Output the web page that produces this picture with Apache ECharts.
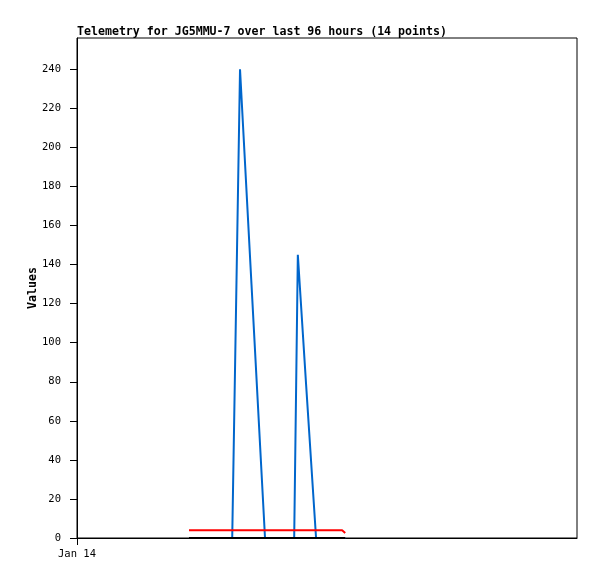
<!DOCTYPE html>
<html><head><meta charset="utf-8">
<script src="https://cdn.jsdelivr.net/npm/echarts@6/dist/echarts.min.js"></script>
<style>html,body{margin:0;padding:0;background:#fff}#c{width:597px;height:579px}</style>
</head><body><div id="c"></div>
<script>
const titleText = 'Telemetry for JG5MMU-7 over last 96 hours (14 points)';
const hours = [21.5, 25.5, 29.8, 31.3, 33.5, 36.1, 38.9, 41.7, 42.4, 44.0, 45.9, 48.4, 50.9, 51.5];
const blueVals = [0, 0, 0, 240, 130, 0, 0, 0, 145, 78, 0, 0, 0, 0];
const redVals = [4, 4, 4, 4, 4, 4, 4, 4, 4, 4, 4, 4, 4, 2.6];
const blackVals = [0, 0, 0, 0, 0, 0, 0, 0, 0, 0, 0, 0, 0, 0];
const yTicks = [0, 20, 40, 60, 80, 100, 120, 140, 160, 180, 200, 220, 240];
const xTicks = [0];
const xTickLabels = ['Jan 14'];

const pair = (vals) => hours.map((h, i) => [h, vals[i]]);
const font = 'DejaVu Sans Mono';
const chart = echarts.init(document.getElementById('c'));
chart.setOption({
  animation: false,
  title: { text: titleText, left: 72, top: 21, textStyle: { fontFamily: font, fontSize: 11.6, fontWeight: 'bold', color: '#000' } },
  grid: { left: 77, top: 38, width: 500, height: 500, show: true, borderColor: '#000', borderWidth: 1, backgroundColor: '#fff', containLabel: false },
  xAxis: {
    type: 'value', min: 0, max: 96,
    axisLine: { show: true, onZero: false, lineStyle: { color: '#000', width: 1 } },
    axisTick: { show: true, length: 7, customValues: xTicks, lineStyle: { color: '#000' } },
    axisLabel: { customValues: xTicks, margin: 11, color: '#000', fontFamily: font, fontSize: 10.5,
      formatter: (v) => { const i = xTicks.indexOf(v); return i >= 0 ? xTickLabels[i] : ''; } },
    splitLine: { show: false }
  },
  yAxis: {
    type: 'value', min: 0, max: 256,
    name: 'Values', nameLocation: 'middle', nameGap: 38, nameRotate: 90, nameMoveOverlap: false,
    nameTextStyle: { fontFamily: font, fontSize: 11.6, fontWeight: 'bold', color: '#000' },
    axisLine: { show: true, lineStyle: { color: '#000', width: 1 } },
    axisTick: { show: true, length: 7, customValues: yTicks, lineStyle: { color: '#000' } },
    axisLabel: { customValues: yTicks, margin: 16, color: '#000', fontFamily: font, fontSize: 10.5 },
    splitLine: { show: false }
  },
  series: [
    { type: 'line', data: pair(blueVals), showSymbol: false, lineStyle: { color: '#0066cc', width: 2 }, z: 2 },
    { type: 'line', data: pair(redVals), showSymbol: false, lineStyle: { color: '#ff0000', width: 2 }, z: 3 },
    { type: 'line', data: pair(blackVals), showSymbol: false, lineStyle: { color: '#000000', width: 2 }, z: 4 }
  ]
});
</script></body></html>
